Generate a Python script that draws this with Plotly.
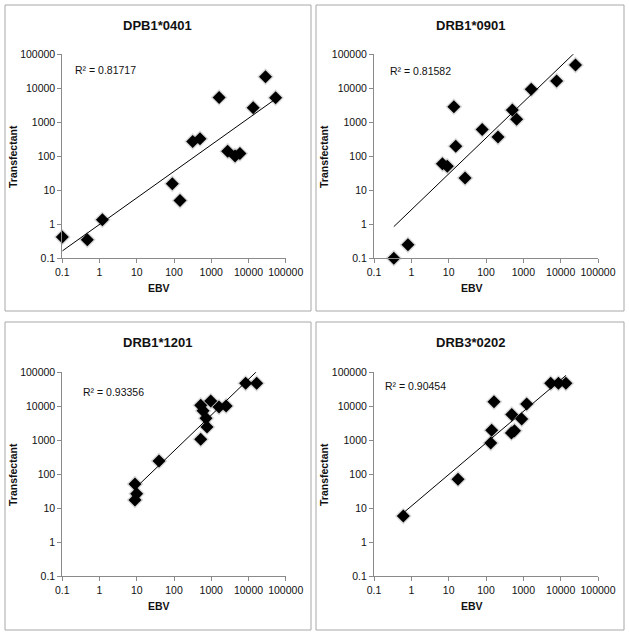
import numpy as np
import plotly.graph_objects as go

W, H = 629, 635

titles = ["DPB1*0401", "DRB1*0901", "DRB1*1201", "DRB3*0202"]
r2_labels = ["R² = 0.81717", "R² = 0.81582", "R² = 0.93356", "R² = 0.90454"]

# EBV (x) vs Transfectant (y)
dpb1_0401_ebv = [0.1, 0.47, 1.19, 90, 145, 318, 500, 1630, 2760, 4360, 5900, 13400, 28700, 53600]
dpb1_0401_tf = [0.42, 0.35, 1.35, 15.6, 5.0, 273, 330, 5400, 141, 102, 120, 2700, 21800, 5250]

drb1_0901_ebv = [0.34, 0.81, 6.8, 9.2, 15.5, 13.8, 27.5, 79, 210, 507, 660, 1630, 7800, 25000]
drb1_0901_tf = [0.10, 0.25, 60, 51, 199, 2860, 23, 610, 371, 2290, 1230, 9300, 16300, 48500]

drb1_1201_ebv = [8.95, 9.9, 8.95, 39.5, 522, 970, 603, 725, 771, 522, 1620, 2510, 8400, 16600]
drb1_1201_tf = [52, 27, 17.5, 245, 10800, 14200, 7370, 4470, 2480, 1070, 9460, 10200, 47300, 47300]

drb3_0202_ebv = [0.61, 17.8, 134, 142, 164, 490, 480, 580, 904, 1230, 5400, 8700, 13800]
drb3_0202_tf = [5.9, 72, 835, 1990, 13500, 5750, 1650, 1900, 4200, 11600, 47300, 47300, 47300]

series = [
    (dpb1_0401_ebv, dpb1_0401_tf),
    (drb1_0901_ebv, drb1_0901_tf),
    (drb1_1201_ebv, drb1_1201_tf),
    (drb3_0202_ebv, drb3_0202_tf),
]

tick_vals = [0.1, 1, 10, 100, 1000, 10000, 100000]
tick_text = ["0.1", "1", "10", "100", "1000", "10000", "100000"]

# panel geometry in pixels
plot_x = [(62.3, 285.7), (374, 598), (62.3, 285.7), (374, 598)]
plot_y = [(54.3, 258.3), (54.3, 258.3), (372.3, 576.3), (372.3, 576.3)]
boxes = [(5, 5, 311, 311), (316, 5, 624, 311), (5, 322, 311, 630), (316, 322, 624, 630)]
title_pos = [(157, 25), (470, 25), (157, 343), (470, 343)]
r2_pos = [(73, 70), (388, 71), (81, 392), (383, 386)]

FONT = "Liberation Sans, Arial, sans-serif"


def px(x):
    return x / W


def py(y):
    return 1 - y / H


def label(text, x, y, size, xanchor="center", angle=0):
    return dict(text=text, x=px(x), y=py(y), xref="paper", yref="paper",
                xanchor=xanchor, yanchor="middle", showarrow=False, textangle=angle,
                font=dict(family=FONT, size=size, color="#111"))


fig = go.Figure()
annotations = []
shapes = []

for i, (ebv, tf) in enumerate(series):
    n = "" if i == 0 else str(i + 1)
    xa, ya = "x" + n, "y" + n

    # soft shadow behind markers
    fig.add_trace(go.Scatter(
        x=ebv, y=tf, xaxis=xa, yaxis=ya, mode="markers",
        marker=dict(symbol="diamond", size=13, color="rgba(0,0,0,0.15)", line=dict(width=0)),
        cliponaxis=False, hoverinfo="skip", showlegend=False))
    fig.add_trace(go.Scatter(
        x=ebv, y=tf, xaxis=xa, yaxis=ya, mode="markers",
        marker=dict(symbol="diamond", size=10, color="black", line=dict(width=0)),
        cliponaxis=False, showlegend=False))

    # power trendline (least squares in log-log space)
    lx, ly = np.log10(ebv), np.log10(tf)
    b, a = np.polyfit(lx, ly, 1)
    fx = np.array([min(ebv), max(ebv)])
    fy = 10 ** (a + b * np.log10(fx))
    fig.add_trace(go.Scatter(
        x=fx, y=fy, xaxis=xa, yaxis=ya, mode="lines",
        line=dict(color="black", width=1), showlegend=False, hoverinfo="skip"))

    axis_common = dict(
        type="log", range=[-1, 5], tickvals=tick_vals, ticktext=tick_text,
        showgrid=False, zeroline=False, showline=True, linecolor="#8a8a8a",
        linewidth=1, ticks="outside", ticklen=4, tickcolor="#8a8a8a",
        automargin=False,
        tickfont=dict(family=FONT, size=10.5, color="#111"),
    )
    x0, x1 = plot_x[i]
    y0, y1 = plot_y[i]
    fig.update_layout(**{
        "xaxis" + n: dict(axis_common, domain=[px(x0), px(x1)], anchor=ya),
        "yaxis" + n: dict(axis_common, domain=[py(y1), py(y0)], anchor=xa),
    })

    bx0, by0, bx1, by1 = boxes[i]
    shapes.append(dict(type="rect", xref="paper", yref="paper",
                       x0=px(bx0), x1=px(bx1), y0=py(by1), y1=py(by0),
                       line=dict(color="#a8a8a8", width=1)))

    tx, ty = title_pos[i]
    annotations.append(label("<b>%s</b>" % titles[i], tx, ty, 13))
    annotations.append(label("<b>EBV</b>", tx + 2, ty + 263, 10.5))
    annotations.append(label("<b>Transfectant</b>", bx0 + 8, ty + 132, 10.5, angle=-90))
    rx, ry = r2_pos[i]
    annotations.append(label(r2_labels[i], rx, ry, 10.5, xanchor="left"))

fig.update_layout(
    template="none",
    font=dict(family=FONT, color="#111"),
    width=W, height=H, autosize=False,
    margin=dict(l=0, r=0, t=0, b=0, pad=0),
    paper_bgcolor="white", plot_bgcolor="white",
    showlegend=False, shapes=shapes, annotations=annotations,
)

# the page's default body margin would push the figure off the window
fig.write_html("out.html", config={"displayModeBar": False},
               post_script="document.body.style.margin='0';document.body.style.overflow='hidden';")
